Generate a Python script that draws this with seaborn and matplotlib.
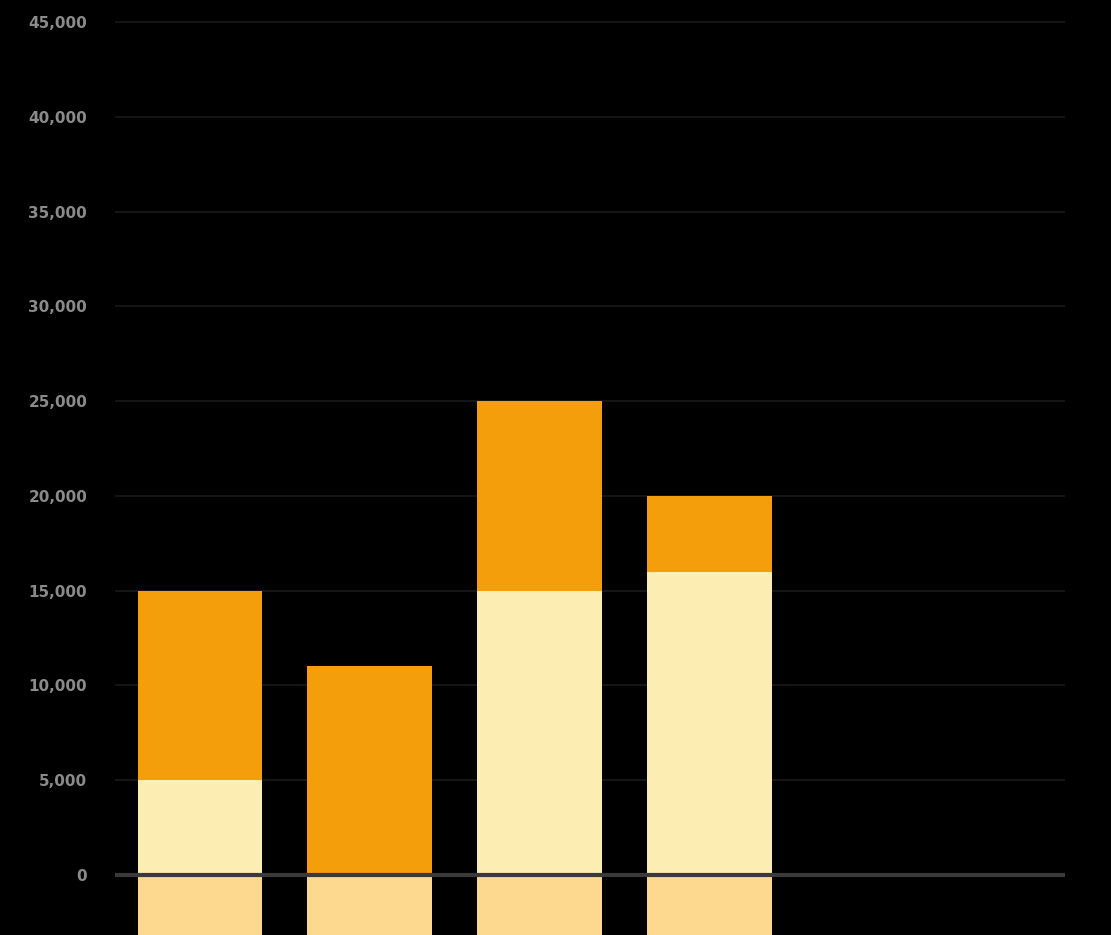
import numpy as np
import pandas as pd
import matplotlib
matplotlib.use("Agg")
import matplotlib.pyplot as plt
import seaborn as sns

# ---- data ----
categories = ["A", "B", "C", "D", "E", "F"]
base_values = [5000, 0, 15000, 16000, 0, 0]          # light segment
top_values = [10000, 11000, 10000, 4000, 0, 0]       # orange segment
below_values = [-5000, -5000, -5000, -5000, 0, 0]    # segment below zero
tick_values = [0, 5000, 10000, 15000, 20000, 25000, 30000, 35000, 40000, 45000]
tick_labels = ["0", "5,000", "10,000", "15,000", "20,000", "25,000",
               "30,000", "35,000", "40,000", "45,000"]

sns.set_theme(style="dark")
plt.rcParams['font.family'] = ['DejaVu Sans']

df = pd.DataFrame({
    "category": categories,
    "base": base_values,
    "total": np.array(base_values) + np.array(top_values),
    "below": below_values,
})

fig = plt.figure(figsize=(11.11, 9.35), dpi=100, facecolor="black")
ax = fig.add_axes([115 / 1111, 0.0, (1065 - 115) / 1111, 1.0])
ax.set_facecolor("black")

w = 0.735
sns.barplot(data=df, x="category", y="total", color="#F59E0B", saturation=1,
            width=w, ax=ax, zorder=3, edgecolor="none")
sns.barplot(data=df, x="category", y="base", color="#FCEDB2", saturation=1,
            width=w, ax=ax, zorder=4, edgecolor="none")
sns.barplot(data=df, x="category", y="below", color="#FCD98E", saturation=1,
            width=w, ax=ax, zorder=4, edgecolor="none")

ax.set_ylim(-3165, 46160)
ax.set_xlim(-0.5, 5.09)
ax.set_yticks(tick_values)
ax.set_yticklabels(tick_labels)
ax.tick_params(axis="y", colors="#8a8a8a", labelsize=11, length=0, pad=20)
for lab in ax.get_yticklabels():
    lab.set_fontweight("bold")
ax.set_xticks([])
ax.set_xlabel("")
ax.set_ylabel("")
ax.grid(axis="y", color="#151515", linewidth=1.5, zorder=0)
ax.grid(axis="x", visible=False)
ax.axhline(0, color="#3a3a3a", linewidth=3, zorder=5)
for s in ax.spines.values():
    s.set_visible(False)

fig.savefig("out.png", dpi=100, facecolor="black")
